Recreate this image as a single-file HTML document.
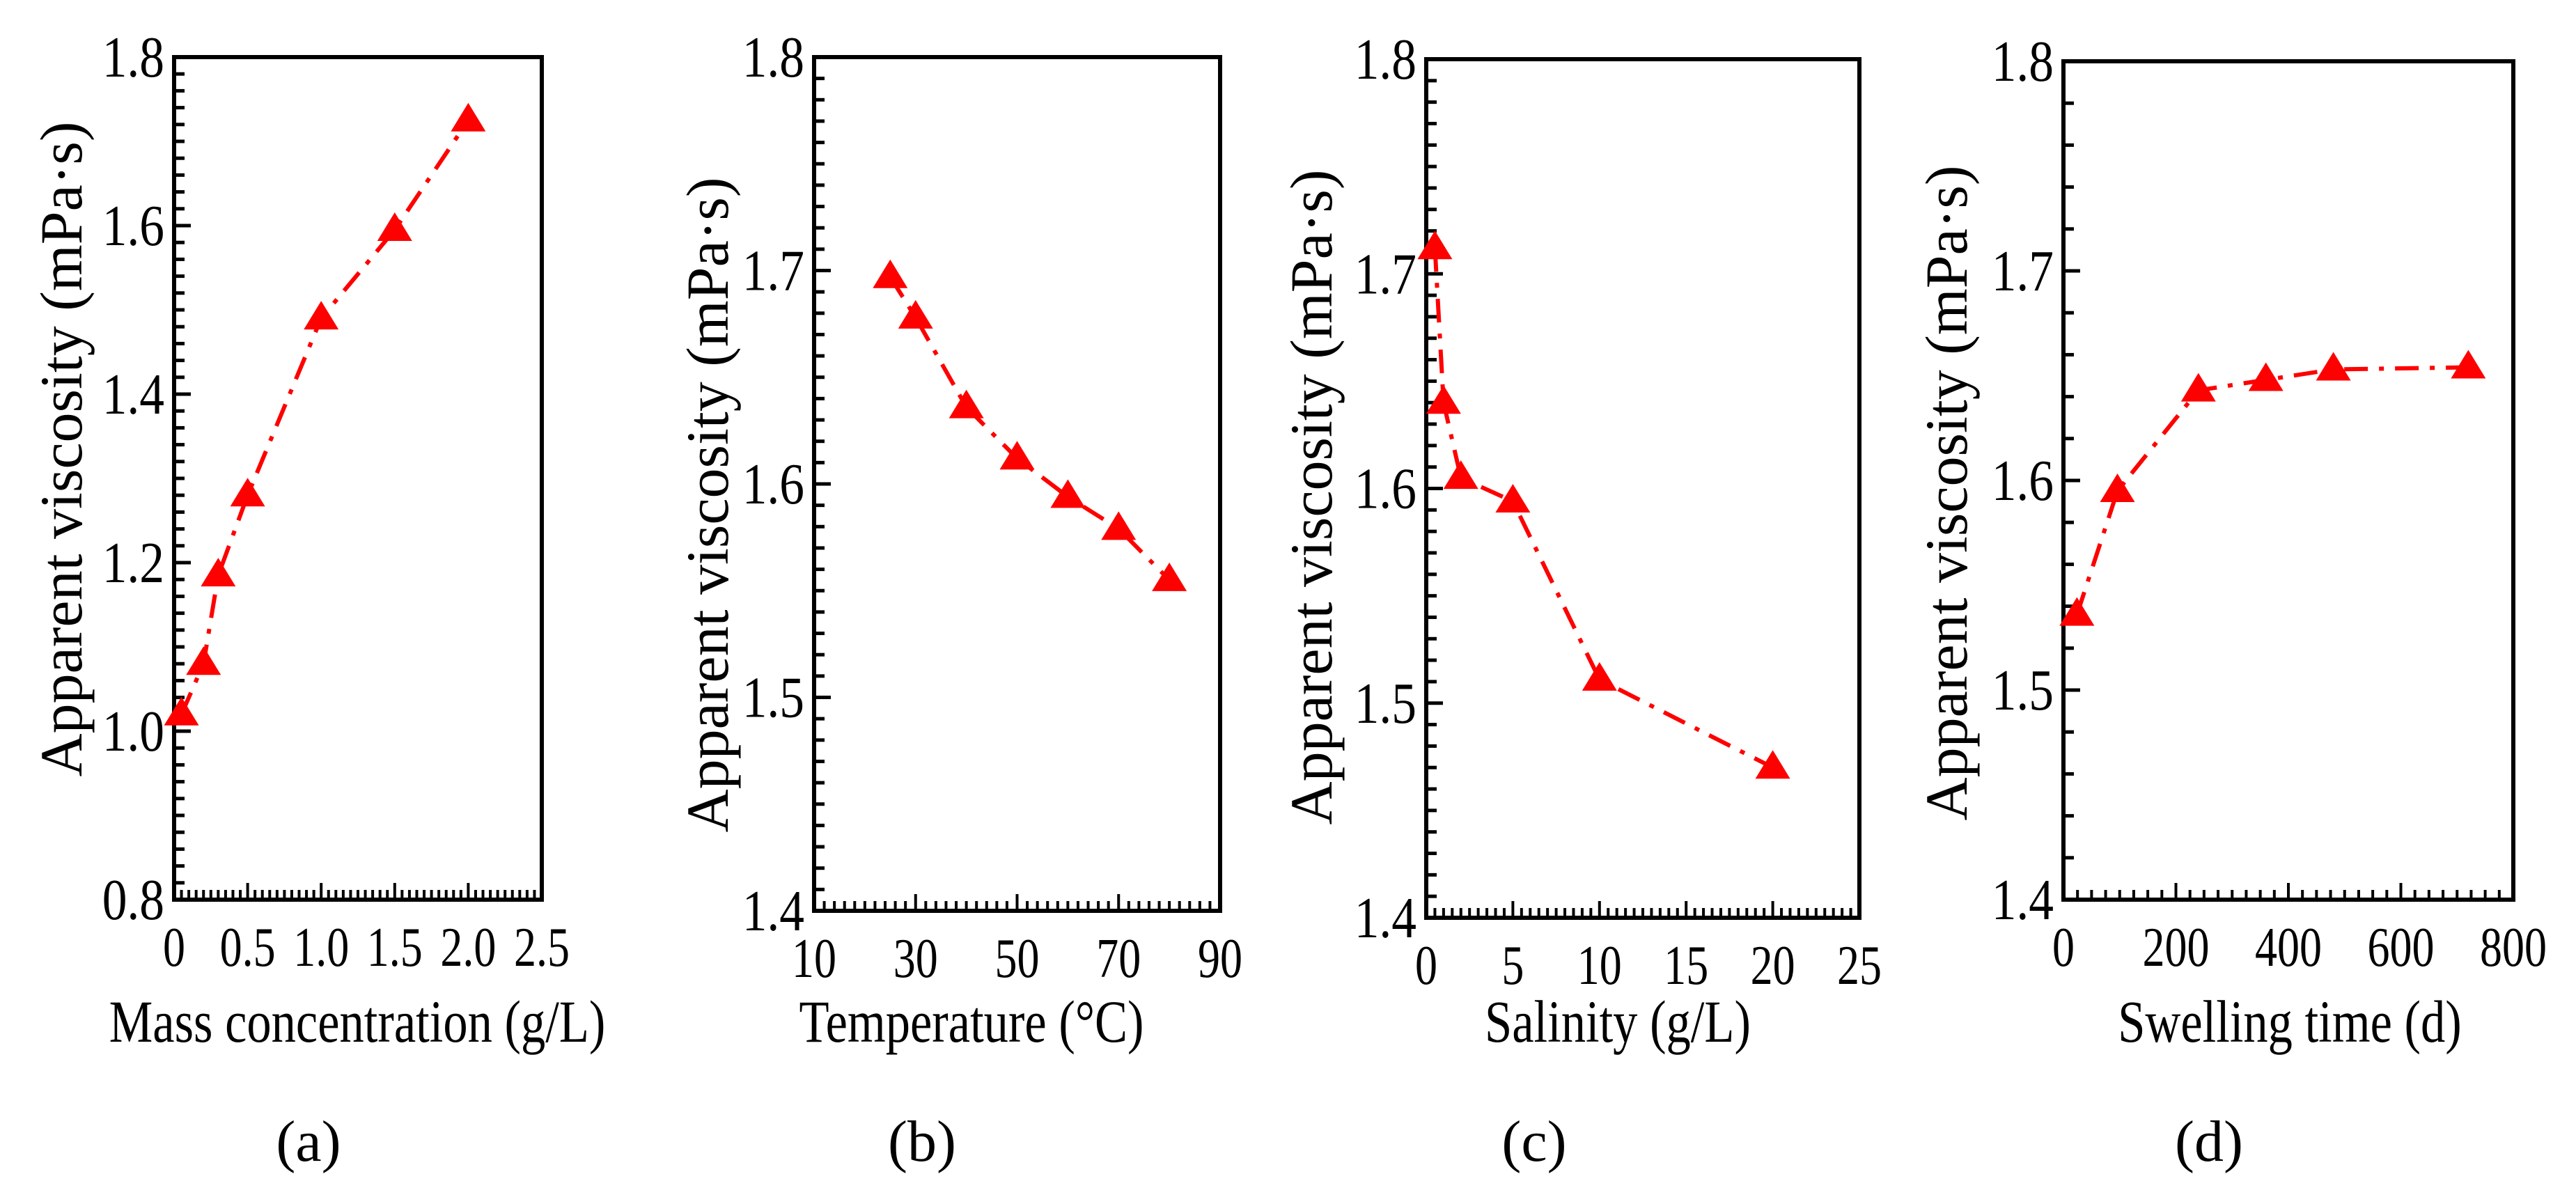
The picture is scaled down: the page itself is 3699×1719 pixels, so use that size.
<!DOCTYPE html>
<html><head><meta charset="utf-8">
<style>
html,body{margin:0;padding:0;background:#fff;}
svg{display:block;font-family:"Liberation Serif",serif;}
</style></head>
<body>
<svg id="fig" width="3699" height="1719" viewBox="0 0 3699 1719" xmlns="http://www.w3.org/2000/svg"></svg>
<script>
// Panel (a) mass concentration
const aX = [0.05, 0.2, 0.3, 0.5, 1.0, 1.5, 2.0];
const aY = [1.02, 1.08, 1.185, 1.28, 1.49, 1.595, 1.725];
const aXTicks = ["0", "0.5", "1.0", "1.5", "2.0", "2.5"];
const aYTicks = ["0.8", "1.0", "1.2", "1.4", "1.6", "1.8"];
// Panel (b) temperature
const bX = [25, 30, 40, 50, 60, 70, 80];
const bY = [1.697, 1.678, 1.636, 1.612, 1.594, 1.579, 1.555];
const bXTicks = ["10", "30", "50", "70", "90"];
const bYTicks = ["1.4", "1.5", "1.6", "1.7", "1.8"];
// Panel (c) salinity
const cX = [0.5, 1, 2, 5, 10, 20];
const cY = [1.712, 1.64, 1.605, 1.594, 1.511, 1.47];
const cXTicks = ["0", "5", "10", "15", "20", "25"];
const cYTicks = ["1.4", "1.5", "1.6", "1.7", "1.8"];
// Panel (d) swelling time
const dX = [24, 96, 240, 360, 480, 720];
const dY = [1.536, 1.595, 1.643, 1.648, 1.653, 1.654];
const dXTicks = ["0", "200", "400", "600", "800"];
const dYTicks = ["1.4", "1.5", "1.6", "1.7", "1.8"];

const NS = "http://www.w3.org/2000/svg";
const svg = document.getElementById("fig");
function mk(tag, attrs, parent, text) {
  const e = document.createElementNS(NS, tag);
  for (const k in attrs) e.setAttribute(k, attrs[k]);
  if (text !== undefined) e.textContent = text;
  (parent || svg).appendChild(e);
  return e;
}
function condense(el, f) {
  const w = el.getComputedTextLength();
  if (w > 0) {
    el.setAttribute("textLength", (w * f).toFixed(1));
    el.setAttribute("lengthAdjust", "spacingAndGlyphs");
  }
}

const panels = [
  {id:"a", L:250, R:778, T:82, B:1292, xs:aX, ys:aY, xt:aXTicks, yt:aYTicks, xmin:0, xmax:2.5, ymin:0.8, ymax:1.8, xminor:0.05, yminor:0.02,
   xtitle:"Mass concentration  (g/L)", xtc:513, ylx:89, ylc:645, plx:443, pname:"(a)"},
  {id:"b", L:1169, R:1752, T:82, B:1308, xs:bX, ys:bY, xt:bXTicks, yt:bYTicks, xmin:10, xmax:90, ymin:1.4, ymax:1.8, xminor:2, yminor:0.01,
   xtitle:"Temperature (\u00B0C)", xtc:1395, ylx:1017, ylc:725, plx:1324, pname:"(b)"},
  {id:"c", L:2048, R:2670, T:85, B:1318, xs:cX, ys:cY, xt:cXTicks, yt:cYTicks, xmin:0, xmax:25, ymin:1.4, ymax:1.8, xminor:0.5, yminor:0.01,
   xtitle:"Salinity  (g/L)", xtc:2323, ylx:1884, ylc:714, plx:2203, pname:"(c)"},
  {id:"d", L:2963, R:3609, T:88, B:1292, xs:dX, ys:dY, xt:dXTicks, yt:dYTicks, xmin:0, xmax:800, ymin:1.4, ymax:1.8, xminor:25, yminor:0.02,
   xtitle:"Swelling time  (d)", xtc:3288, ylx:2796, ylc:708, plx:3172, pname:"(d)"}
];

panels.forEach(p => {
  const g = mk("g", {});
  
  
  const sx = v => p.L + (v - p.xmin) / (p.xmax - p.xmin) * (p.R - p.L);
  const sy = v => p.B - (v - p.ymin) / (p.ymax - p.ymin) * (p.B - p.T);

  const frame = mk("rect", {x:p.L, y:p.T, width:p.R-p.L, height:p.B-p.T, fill:"none", stroke:"#000", "stroke-width":6}, g);
  
  

  const nx = Math.round((p.xmax - p.xmin) / p.xminor);
  const majX = (p.xmax - p.xmin) / (p.xt.length - 1);
  for (let i = 0; i <= nx; i++) {
    const v = p.xmin + i * p.xminor;
    const isMaj = Math.abs((v - p.xmin) / majX - Math.round((v - p.xmin) / majX)) < 1e-6;
    const x = sx(v);
    const t = mk("line", {x1:x, x2:x, y1:p.B, y2:p.B - (isMaj ? 24 : 14), stroke:"#000", "stroke-width":4}, g);
    
    
  }
  p.xt.forEach((lab, i) => {
    const v = p.xmin + i * majX;
    const t = mk("text", {x:sx(v), y:p.B + 95, "font-size":80, "text-anchor":"middle"}, g, lab);
    
    
    condense(t, 0.8);
  });
  const ny = Math.round((p.ymax - p.ymin) / p.yminor);
  const majY = (p.ymax - p.ymin) / (p.yt.length - 1);
  for (let i = 0; i <= ny; i++) {
    const v = p.ymin + i * p.yminor;
    const isMaj = Math.abs((v - p.ymin) / majY - Math.round((v - p.ymin) / majY)) < 1e-6;
    const y = sy(v);
    const t = mk("line", {x1:p.L, x2:p.L + (isMaj ? 24 : 15), y1:y, y2:y, stroke:"#000", "stroke-width":5}, g);
    
    
  }
  p.yt.forEach((lab, i) => {
    const v = p.ymin + i * majY;
    const t = mk("text", {x:p.L - 14, y:sy(v) + 28, "font-size":84, "text-anchor":"end"}, g, lab);
    
    
    condense(t, 0.85);
  });
  const pts = p.xs.map((v, i) => sx(v) + "," + sy(p.ys[i])).join(" ");
  const line = mk("polyline", {points:pts, fill:"none", stroke:"#ff0000", "stroke-width":6, "stroke-dasharray":"34 16 7 16"}, g);
  
  
  p.xs.forEach((v, i) => {
    const x = sx(v), y = sy(p.ys[i]);
    const m = mk("polygon", {points:(x-25)+","+(y+16)+" "+(x+25)+","+(y+16)+" "+x+","+(y-25), fill:"#ff0000"}, g);
    
    
  });
  const xtEl = mk("text", {x:p.xtc, y:1496, "font-size":86, "text-anchor":"middle"}, g, p.xtitle);
  
  
  condense(xtEl, 0.82);
  const ytEl = mk("text", {x:0, y:0, "font-size":86, "text-anchor":"middle", transform:"translate(" + (p.ylx + 28) + "," + p.ylc + ") rotate(-90)"}, g, "Apparent viscosity  (mPa\u00B7s)");
  
  
  const pl = mk("text", {x:p.plx, y:1667, "font-size":84, "text-anchor":"middle"}, g, p.pname);
  
  
});
</script>
</body></html>
